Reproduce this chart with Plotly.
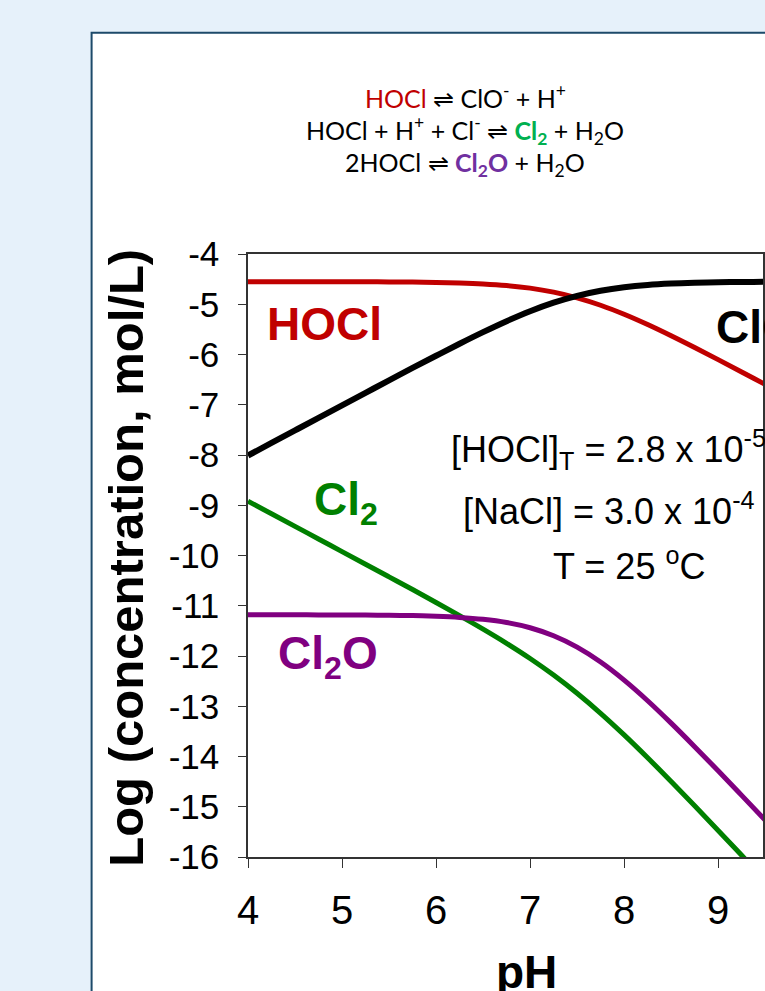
import plotly.graph_objects as go

# ---------------- data ----------------
ph = [4.00, 4.25, 4.50, 4.75, 5.00, 5.25, 5.50, 5.75, 6.00, 6.25, 6.50, 6.75,
      7.00, 7.25, 7.50, 7.75, 8.00, 8.25, 8.50, 8.75, 9.00, 9.25, 9.50, 9.75, 10.00]

log_hocl = [-4.550, -4.550, -4.550, -4.551, -4.552, -4.553, -4.555, -4.558, -4.565,
            -4.576, -4.595, -4.627, -4.679, -4.759, -4.872, -5.020, -5.200, -5.405,
            -5.628, -5.862, -6.102, -6.347, -6.594, -6.842, -7.091]

log_clo = [-8.010, -7.760, -7.510, -7.261, -7.012, -6.763, -6.515, -6.268, -6.025,
           -5.786, -5.555, -5.337, -5.139, -4.969, -4.832, -4.730, -4.660, -4.615,
           -4.588, -4.572, -4.562, -4.557, -4.554, -4.552, -4.551]

log_cl2 = [-8.920, -9.170, -9.420, -9.671, -9.922, -10.173, -10.425, -10.678, -10.935,
           -11.196, -11.465, -11.747, -12.049, -12.379, -12.742, -13.140, -13.570,
           -14.025, -14.498, -14.982, -15.472, -15.967, -16.464]

log_cl2o = [-11.180, -11.180, -11.180, -11.182, -11.184, -11.186, -11.190, -11.196,
            -11.210, -11.232, -11.270, -11.334, -11.438, -11.598, -11.824, -12.120,
            -12.480, -12.890, -13.336, -13.804, -14.284, -14.774, -15.268, -15.770, -16.270]

x_ticks = [4, 5, 6, 7, 8, 9, 10]
y_ticks = [-4, -5, -6, -7, -8, -9, -10, -11, -12, -13, -14, -15, -16]
y_tick_text = ["-4", "-5", "-6", "-7", "-8", "-9", "-10", "-11", "-12", "-13", "-14", "-15", "-16"]

# ---------------- styles ----------------
RED, BLACK, GREEN, PURPLE = "#c00000", "#000000", "#008000", "#800080"
EQ_GREEN, EQ_PURPLE = "#00b050", "#7030a0"
SANS = "Liberation Sans, Arial, sans-serif"
EQF = "Lato, Noto Sans, sans-serif"

fig = go.Figure()
fig.add_trace(go.Scatter(x=ph, y=log_hocl, mode="lines", name="HOCl",
                         line=dict(color=RED, width=5, shape="spline")))
fig.add_trace(go.Scatter(x=ph, y=log_clo, mode="lines", name="ClO-",
                         line=dict(color=BLACK, width=6, shape="spline")))
fig.add_trace(go.Scatter(x=ph[:len(log_cl2)], y=log_cl2, mode="lines", name="Cl2",
                         line=dict(color=GREEN, width=5, shape="spline")))
fig.add_trace(go.Scatter(x=ph, y=log_cl2o, mode="lines", name="Cl2O",
                         line=dict(color=PURPLE, width=5, shape="spline")))

# white framed card behind the chart
fig.add_shape(type="rect", xref="paper", yref="paper",
              x0=-0.3037, x1=1.3, y0=-0.6, y1=1.367,
              line=dict(color="#1d4a6a", width=2), fillcolor="white", layer="below")

ann = []
# equations
eq_lines = [
    (f"<span style='color:{RED}'>HOCl</span> ⇌ ClO<sup>-</sup> + H<sup>+</sup>", 1.262),
    (f"HOCl + H<sup>+</sup> + Cl<sup>-</sup> ⇌ <b><span style='color:{EQ_GREEN}'>Cl<sub>2</sub></span></b> + H<sub>2</sub>O", 1.205),
    (f"2HOCl ⇌ <b><span style='color:{EQ_PURPLE}'>Cl<sub>2</sub>O</span></b> + H<sub>2</sub>O", 1.149),
]
for txt, yy in eq_lines:
    ann.append(dict(x=0.4217, y=yy, xref="paper", yref="paper", text=txt, showarrow=False,
                    xanchor="center", yanchor="middle",
                    font=dict(family=EQF, size=25, color="black")))

# species labels
species = [
    dict(x=4.18, y=-5.40, text="<b>HOCl</b>", font=dict(color=RED)),
    dict(x=8.96, y=-5.40, text="<b>ClO<sup>-</sup></b>", font=dict(color=BLACK)),
    dict(x=4.68, y=-8.95, text="<b>Cl<sub>2</sub></b>", font=dict(color=GREEN)),
    dict(x=4.30, y=-12.0, text="<b>Cl<sub>2</sub>O</b>", font=dict(color=PURPLE)),
]
for a in species:
    a.update(xref="x", yref="y", showarrow=False, xanchor="left", yanchor="middle")
    a["font"].update(family=SANS, size=46)
ann += species

# conditions
cond = [
    ("[HOCl]<sub>T</sub> = 2.8 x 10<sup>-5</sup> M", -7.90),
    ("[NaCl] = 3.0 x 10<sup>-4</sup> M", -9.08),
    ("T = 25 <sup>o</sup>C", -10.16),
]
for txt, yy in cond:
    ann.append(dict(x=8.05, y=yy, xref="x", yref="y", text=txt, showarrow=False,
                    xanchor="center", yanchor="middle",
                    font=dict(family=SANS, size=36, color="black")))

# axis titles
ann.append(dict(x=-0.236, y=0.497, xref="paper", yref="paper",
                text="<b>Log (concentration, mol/L)</b>", textangle=-90,
                showarrow=False, xanchor="center", yanchor="middle",
                font=dict(family=SANS, size=49, color="black")))
ann.append(dict(x=0.54, y=-0.145, xref="paper", yref="paper", text="<b>pH</b>",
                showarrow=False, xanchor="center", yanchor="top",
                font=dict(family=SANS, size=46, color="black")))

fig.update_layout(
    width=765, height=991,
    margin=dict(l=248, r=0, t=254, b=134, pad=0),
    paper_bgcolor="#e6f1fa", plot_bgcolor="white",
    showlegend=False, annotations=ann,
)
fig.update_xaxes(range=[4, 9.477], tickvals=x_ticks, ticks="outside", ticklen=9,
                 tickcolor="#333", showline=True, linecolor="#333", linewidth=1.5,
                 mirror=True, showgrid=False, zeroline=False,
                 tickfont=dict(family=SANS, size=40, color="black"),
                 ticklabelstandoff=8)
fig.update_yaxes(range=[-16, -4], tickvals=y_ticks, ticktext=y_tick_text,
                 ticks="outside", ticklen=8,
                 tickcolor="#333", showline=True, linecolor="#333", linewidth=1.5,
                 mirror=True, showgrid=False, zeroline=False,
                 tickfont=dict(family=SANS, size=35, color="black"),
                 ticklabelstandoff=12)

fig.write_html("out.html")
